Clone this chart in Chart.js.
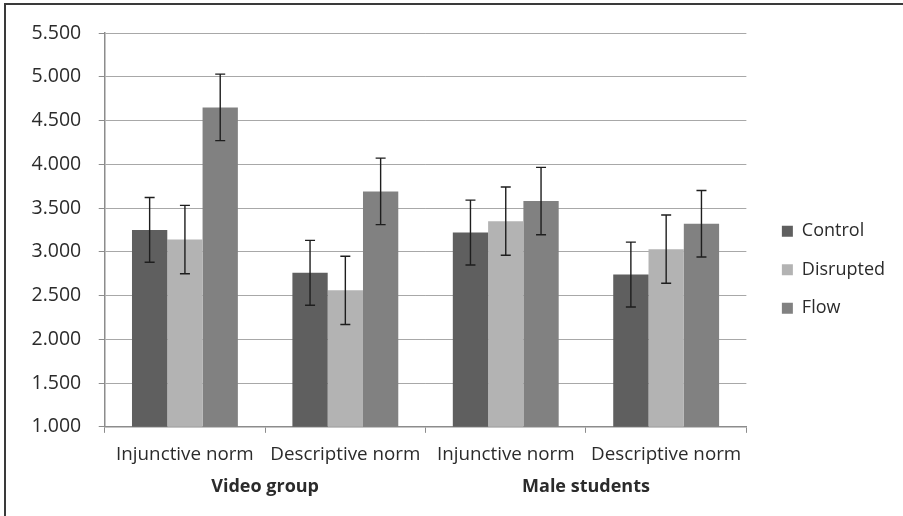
<!DOCTYPE html>
<html>
<head>
<meta charset="utf-8">
<script src="https://cdn.jsdelivr.net/npm/chart.js@4.4.1/dist/chart.umd.min.js"></script>
<style>
    html, body { margin: 0; padding: 0; background: #fff; }
    #wrap { width: 903px; height: 516px; position: relative; }
</style>
</head>
<body>
<div id="wrap"><canvas id="normChart" width="903" height="516"></canvas></div>
<script>
const categories = ["Injunctive norm", "Descriptive norm", "Injunctive norm", "Descriptive norm"];
const groupLabels = ["Video group", "Male students"];

const controlValues = [3.25, 2.76, 3.22, 2.74];
const disruptedValues = [3.14, 2.56, 3.35, 3.03];
const flowValues = [4.65, 3.69, 3.58, 3.32];

const controlErr = [0.37, 0.37, 0.37, 0.37];
const disruptedErr = [0.39, 0.39, 0.39, 0.39];
const flowErr = [0.38, 0.38, 0.385, 0.38];

const FONT = "'Open Sans', 'Liberation Sans', sans-serif";
const TEXT = "#2b2b2b";

// error bars drawn on top of each bar
const errorBars = {
    id: "errorBars",
    afterDatasetsDraw(chart) {
        const ctx = chart.ctx;
        const y = chart.scales.y;
        ctx.save();
        ctx.strokeStyle = "#1e1e1e";
        ctx.lineWidth = 1.4;
        chart.data.datasets.forEach((ds, i) => {
            const meta = chart.getDatasetMeta(i);
            meta.data.forEach((bar, j) => {
                const v = ds.data[j];
                const e = ds.err[j];
                const top = y.getPixelForValue(v + e);
                const bot = y.getPixelForValue(v - e);
                const x = bar.x;
                ctx.beginPath();
                ctx.moveTo(x, top); ctx.lineTo(x, bot);
                ctx.moveTo(x - 5, top); ctx.lineTo(x + 5, top);
                ctx.moveTo(x - 5, bot); ctx.lineTo(x + 5, bot);
                ctx.stroke();
            });
        });
        ctx.restore();
    }
};

// frame round the picture (left and top edges only visible)
const frame = {
    id: "frame",
    afterDraw(chart) {
        const ctx = chart.ctx;
        ctx.save();
        ctx.strokeStyle = "#3a3a3a";
        ctx.lineWidth = 2;
        ctx.beginPath();
        ctx.moveTo(5, 516);
        ctx.lineTo(5, 4);
        ctx.lineTo(903, 4);
        ctx.stroke();
        ctx.restore();
    }
};

new Chart(document.getElementById("normChart"), {
    type: "bar",
    data: {
        labels: categories,
        datasets: [
            { label: "Control", data: controlValues, err: controlErr, backgroundColor: "#5f5f5f" },
            { label: "Disrupted", data: disruptedValues, err: disruptedErr, backgroundColor: "#b3b3b3" },
            { label: "Flow", data: flowValues, err: flowErr, backgroundColor: "#818181" }
        ]
    },
    options: {
        responsive: false,
        animation: false,
        layout: { padding: { left: 14, top: 33, right: 8, bottom: 19 } },
        datasets: { bar: { categoryPercentage: 0.66, barPercentage: 1.0 } },
        plugins: {
            tooltip: { enabled: false },
            legend: {
                position: "right",
                // empty title only nudges the items down a little
                title: { display: true, text: "", font: { size: 8 }, padding: 0 },
                labels: {
                    boxWidth: 11,
                    boxHeight: 11,
                    padding: 20.5,
                    color: TEXT,
                    font: { family: FONT, size: 18 }
                }
            }
        },
        scales: {
            x: {
                offset: true,
                grid: { offset: true, drawOnChartArea: false, drawTicks: true, tickLength: 6, color: "#8c8c8c" },
                border: { display: true, color: "#8c8c8c", width: 1.5 },
                ticks: { color: TEXT, padding: 11, maxRotation: 0, font: { family: FONT, size: 18.8 } }
            },
            x2: {
                type: "category",
                labels: groupLabels,
                offset: true,
                grid: { display: false, drawTicks: false },
                border: { display: false },
                ticks: { color: TEXT, padding: -1, maxRotation: 0, font: { family: FONT, size: 18, weight: "bold" } }
            },
            y: {
                min: 1,
                max: 5.5,
                grid: { color: "#a8a8a8", lineWidth: 1, tickLength: 6, tickColor: "#8c8c8c" },
                border: { display: true, color: "#8c8c8c", width: 1.5 },
                ticks: {
                    stepSize: 0.5,
                    color: TEXT,
                    padding: 17.5,
                    font: { family: FONT, size: 19.5 },
                    callback: v => v.toFixed(3)
                }
            },
            // blank axis, keeps a gap between plot and legend
            gap: {
                type: "linear",
                position: "right",
                grid: { display: false, drawTicks: true, tickLength: 15 },
                border: { display: false },
                ticks: { display: false }
            }
        }
    },
    plugins: [errorBars, frame]
});
</script>
</body>
</html>
